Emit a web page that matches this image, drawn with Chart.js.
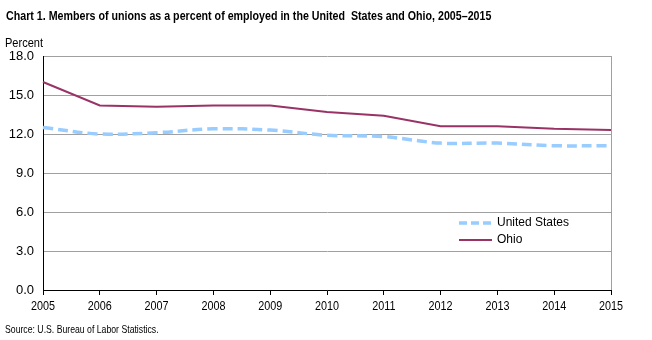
<!DOCTYPE html>
<html><head><meta charset="utf-8">
<script src="https://cdn.jsdelivr.net/npm/chart.js@4/dist/chart.umd.min.js"></script>
<style>html,body{margin:0;padding:0;background:#fff}canvas{display:block}</style>
</head><body>
<canvas id="c" width="652" height="340"></canvas>
<script>
const years = ['2005','2006','2007','2008','2009','2010','2011','2012','2013','2014','2015'];
const unitedStates = [12.5,12.0,12.1,12.4,12.3,11.9,11.8,11.3,11.3,11.1,11.1];
const ohio = [16.0,14.2,14.1,14.2,14.2,13.7,13.4,12.6,12.6,12.4,12.3];
const titleText = 'Chart 1. Members of unions as a percent of employed in the United  States and Ohio, 2005\u20132015';
const sourceText = 'Source: U.S. Bureau of Labor Statistics.';
const FONT = '"Liberation Sans", Arial, sans-serif';

const US_COLOR = '#99ccff', OH_COLOR = '#993366';

function narrowText(ctx, text, x, y, sx, align) {
  ctx.save();
  ctx.translate(x, y);
  ctx.scale(sx, 1);
  ctx.textAlign = align || 'left';
  ctx.fillText(text, 0, 0);
  ctx.restore();
}

const deco = {
  id: 'deco',
  afterDraw(chart) {
    const ctx = chart.ctx, a = chart.chartArea;
    ctx.save();
    // right border
    ctx.strokeStyle = '#a0a0a0'; ctx.lineWidth = 1;
    ctx.beginPath(); ctx.moveTo(Math.round(a.right)+0.5, a.top); ctx.lineTo(Math.round(a.right)+0.5, a.bottom); ctx.stroke();
    ctx.fillStyle = '#000'; ctx.textBaseline = 'alphabetic';
    ctx.font = 'bold 13.5px ' + FONT;
    narrowText(ctx, titleText, 6, 20, 0.79);
    ctx.font = '13px ' + FONT;
    narrowText(ctx, 'Percent', 5, 47, 0.85);
    ctx.font = '11px ' + FONT;
    narrowText(ctx, sourceText, 5, 333, 0.79);
    // x tick labels
    const xs = chart.scales.x;
    ctx.font = '13.5px ' + FONT; ctx.textBaseline = 'alphabetic';
    xs.ticks.forEach((t, i) => {
      narrowText(ctx, years[i], xs.getPixelForTick(i), 310, 0.8, 'center');
    });
    // legend
    const lx = 459, ly1 = 223, ly2 = 240;
    ctx.lineCap = 'butt';
    ctx.strokeStyle = US_COLOR; ctx.lineWidth = 3.5; ctx.setLineDash([8,4]);
    ctx.beginPath(); ctx.moveTo(lx, ly1); ctx.lineTo(lx+32, ly1); ctx.stroke();
    ctx.setLineDash([]);
    ctx.strokeStyle = OH_COLOR; ctx.lineWidth = 2;
    ctx.beginPath(); ctx.moveTo(lx, ly2); ctx.lineTo(lx+33, ly2); ctx.stroke();
    ctx.font = '12px ' + FONT; ctx.textBaseline = 'middle'; ctx.textAlign = 'left';
    ctx.fillText('United States', 497, ly1);
    ctx.fillText('Ohio', 497, ly2);
    ctx.restore();
  }
};

new Chart(document.getElementById('c'), {
  type: 'line',
  data: {
    labels: years,
    datasets: [
      { label: 'United States', data: unitedStates, borderColor: US_COLOR, borderWidth: 3.5, borderDash: [10,5], pointRadius: 0, tension: 0.35, fill: false },
      { label: 'Ohio', data: ohio, borderColor: OH_COLOR, borderWidth: 2, pointRadius: 0, tension: 0, fill: false }
    ]
  },
  options: {
    responsive: false, animation: false,
    layout: { padding: { left: 0, top: 56, right: 41, bottom: 0 } },
    plugins: { legend: { display: false }, title: { display: false }, tooltip: { enabled: false } },
    scales: {
      x: {
        offset: false,
        grid: { drawOnChartArea: false, drawTicks: true, tickLength: 5, color: '#000' },
        border: { color: '#000', width: 1 },
        ticks: { color: 'rgba(0,0,0,0)', font: { family: FONT, size: 13 }, padding: 3, maxRotation: 0, autoSkip: false },
        afterFit(s) { s.height = 50; }
      },
      y: {
        min: 0, max: 18,
        grid: { color: '#a0a0a0', drawTicks: false },
        border: { color: '#000', width: 1 },
        ticks: { stepSize: 3, color: '#000', font: { family: FONT, size: 13 }, padding: 9, callback: v => v.toFixed(1) },
        afterFit(s) { s.width = 43; }
      }
    }
  },
  plugins: [deco]
});
</script>
</body></html>
